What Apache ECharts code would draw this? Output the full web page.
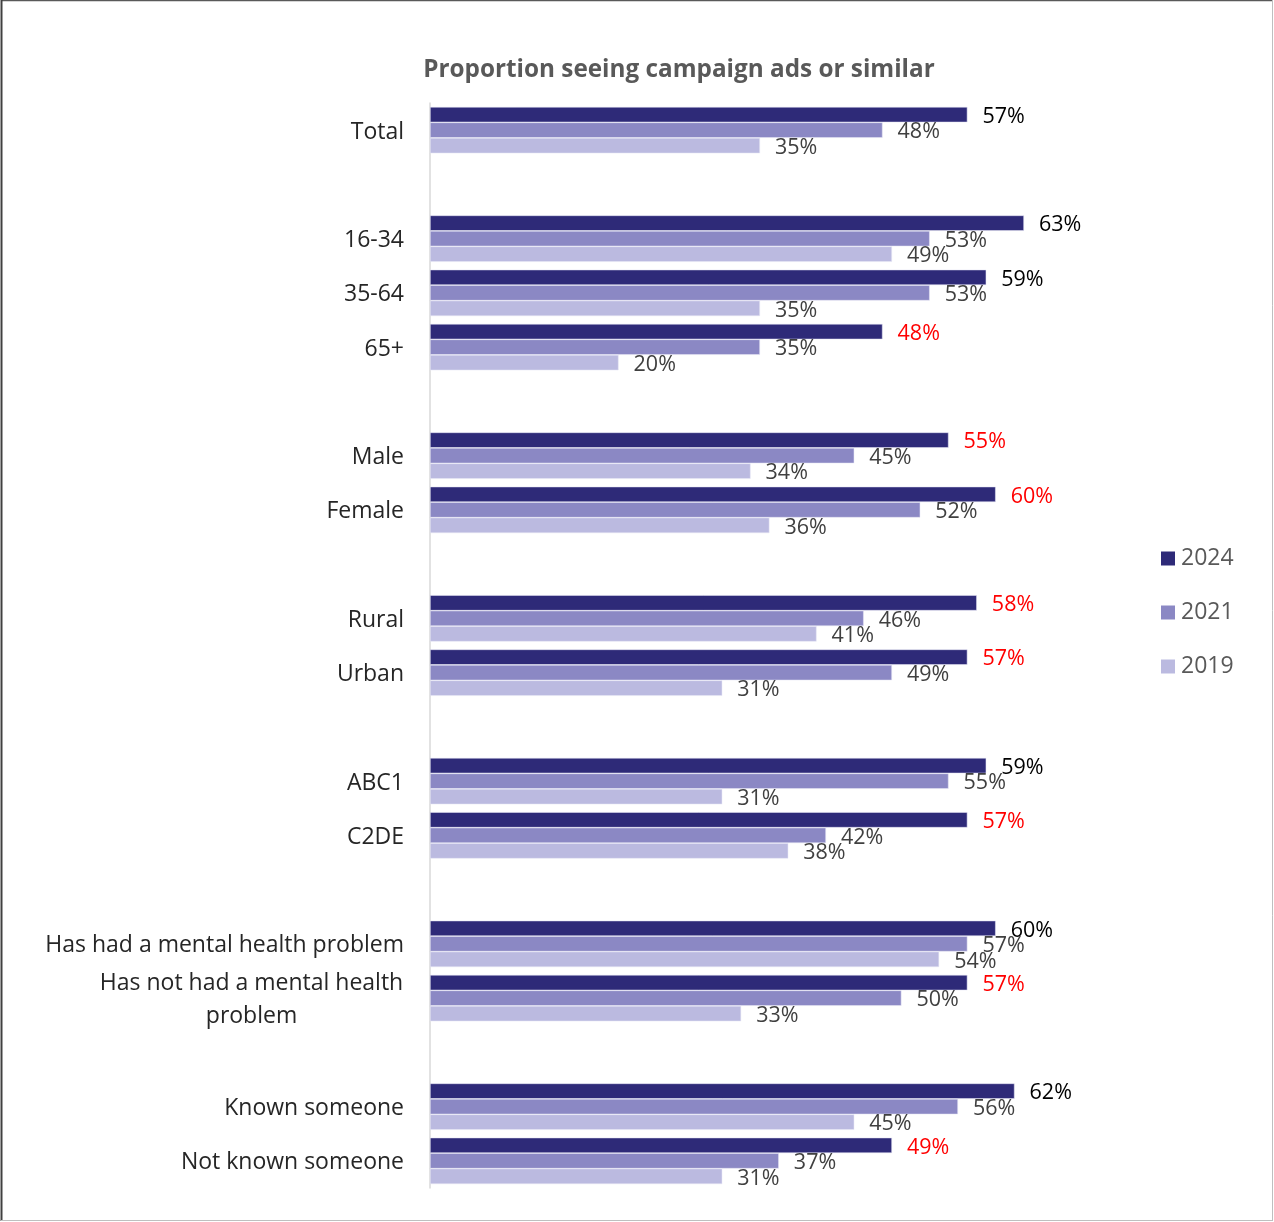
<!DOCTYPE html>
<html>
<head>
<meta charset="utf-8">
<script src="https://cdn.jsdelivr.net/npm/echarts@6/dist/echarts.min.js"></script>
<style>
html,body{margin:0;padding:0;background:#fff;}
#chart{width:1274px;height:1222px;}
</style>
</head>
<body>
<div id="chart"></div>
<script>
// ---- data ----
const categories = ['Total', ' ', '16-34', '35-64', '65+', '  ', 'Male', 'Female', '   ', 'Rural', 'Urban', '    ', 'ABC1', 'C2DE', '     ', 'Has had a mental health problem', 'Has not had a mental health problem', '      ', 'Known someone', 'Not known someone'];
const years = ['2024', '2021', '2019'];
const values2024 = [57, null, 63, 59, 48, null, 55, 60, null, 58, 57, null, 59, 57, null, 60, 57, null, 62, 49];
const values2021 = [48, null, 53, 53, 35, null, 45, 52, null, 46, 49, null, 55, 42, null, 57, 50, null, 56, 37];
const values2019 = [35, null, 49, 35, 20, null, 34, 36, null, 41, 31, null, 31, 38, null, 54, 33, null, 45, 31];
const redLabels2024 = ['65+', 'Male', 'Female', 'Rural', 'Urban', 'C2DE', 'Has not had a mental health problem', 'Not known someone'];

const FONT = 'Open Sans';
const colors = ['#2E2A78', '#8B88C4', '#BBBAE0'];

const chart = echarts.init(document.getElementById('chart'));

function makeData(vals, isTop) {
  return vals.map((v, i) => {
    if (v === null) return null;
    const item = { value: v };
    if (isTop) {
      item.label = { color: redLabels2024.includes(categories[i]) ? '#FF0000' : '#000000' };
    }
    return item;
  });
}

const seriesVals = [values2024, values2021, values2019];
const series = years.map((y, k) => ({
  name: y,
  type: 'bar',
  data: makeData(seriesVals[k], k === 0),
  barWidth: 15.5,
  barGap: '0%',
  itemStyle: { color: colors[k], borderColor: 'rgba(230,230,245,0.9)', borderWidth: 0.6 },
  label: {
    show: true,
    position: 'right',
    distance: 15,
    offset: [0, 2],
    formatter: p => p.value + '%',
    fontFamily: FONT,
    fontSize: 21.5,
    color: '#404040'
  },
  emphasis: { disabled: true }
}));

chart.setOption({
  animation: false,
  backgroundColor: '#ffffff',
  textStyle: { fontFamily: FONT },
  title: {
    text: 'Proportion seeing campaign ads or similar',
    left: 674,
    textAlign: 'center',
    top: 53,
    textStyle: { fontFamily: FONT, fontSize: 24.3, fontWeight: 'bold', color: '#595959' }
  },
  legend: {
    orient: 'vertical',
    left: 1156,
    top: 542,
    itemWidth: 14,
    itemHeight: 14,
    itemGap: 31,
    icon: 'rect',
    data: years,
    itemStyle: { borderWidth: 0 },
    textStyle: { fontFamily: FONT, fontSize: 23, color: '#595959', padding: [0, 0, 0, 1] }
  },
  grid: { left: 430, top: 103, width: 660, height: 1085, containLabel: false },
  xAxis: {
    type: 'value',
    min: 0,
    max: 70,
    show: false
  },
  yAxis: {
    type: 'category',
    data: categories,
    inverse: true,
    axisLine: { show: true, lineStyle: { color: '#D9D9D9', width: 1.5 } },
    axisTick: { show: false },
    axisLabel: {
      margin: 26,
      fontFamily: FONT,
      fontSize: 23,
      color: '#262626',
      padding: [4, 0, 0, 0],
      formatter: function (v) {
        if (v === 'Has not had a mental health problem') {
          return '{w|Has not had a mental health}\n{w|problem}';
        }
        return v;
      },
      rich: {
        w: { width: 305, align: 'center', fontFamily: FONT, fontSize: 23, color: '#262626', lineHeight: 33 }
      }
    }
  },
  graphic: [
    { type: 'line', shape: { x1: 1, y1: 0.5, x2: 1273, y2: 0.5 }, style: { stroke: '#595959', lineWidth: 1.5 } },
    { type: 'line', shape: { x1: 1.5, y1: 0, x2: 1.5, y2: 1221 }, style: { stroke: '#404040', lineWidth: 2 } },
    { type: 'line', shape: { x1: 1272.5, y1: 0, x2: 1272.5, y2: 1221 }, style: { stroke: '#BFBFBF', lineWidth: 1 } },
    { type: 'line', shape: { x1: 1, y1: 1220.5, x2: 1273, y2: 1220.5 }, style: { stroke: '#BFBFBF', lineWidth: 1 } }
  ],
  series: series
});
</script>
</body>
</html>
